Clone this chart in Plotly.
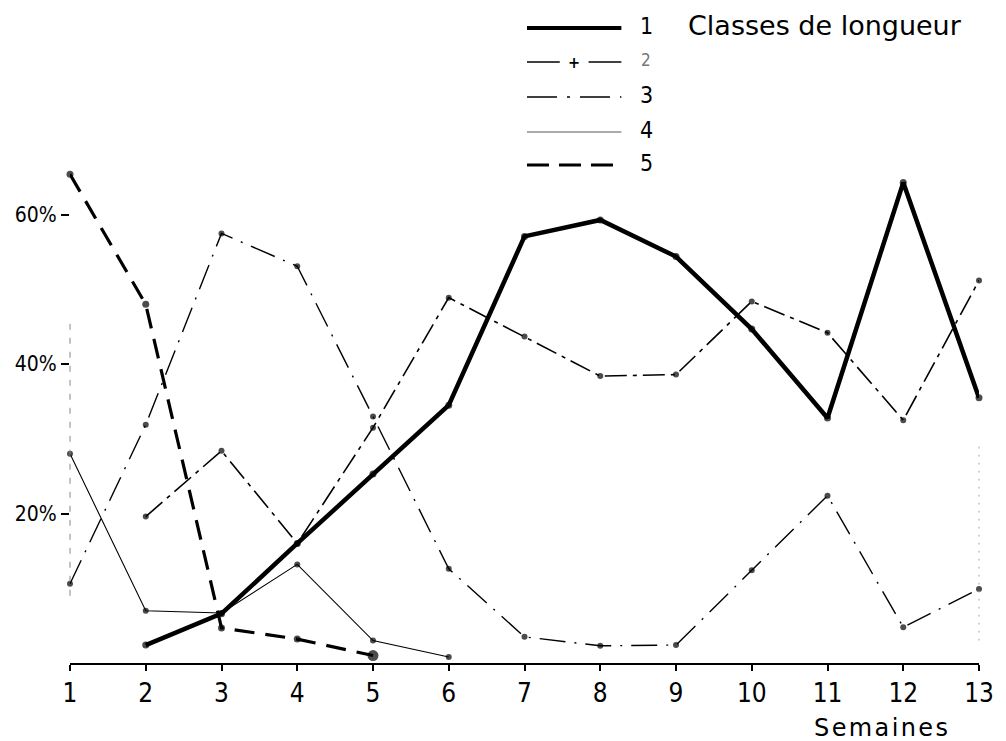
import plotly.graph_objects as go

weeks = list(range(1, 14))

# percentages per length class; None = no value
classe1 = [None, 2.4, 6.6, 16.0, 25.3, 34.5, 57.1, 59.3, 54.4, 44.7, 32.8, 64.3, 35.5]
classe2 = [None, 19.6, 28.4, 16.0, 31.5, 48.9, 43.7, 38.4, 38.6, 48.4, 44.2, 32.5, 51.2]
classe3 = [10.6, 31.9, 57.5, 53.1, 33.0, 12.6, 3.5, 2.3, 2.4, 12.4, 22.4, 4.8, 9.9]
classe4 = [28.0, 7.0, 6.7, 13.2, 3.0, 0.8, None, None, None, None, None, None, None]
classe5 = [65.4, 48.0, 4.7, 3.2, 1.0, None, None, None, None, None, None, None, None]

y_ticks = [20, 40, 60]
y_tick_labels = ["20%", "40%", "60%"]
legend_labels = ["1", "2", "3", "4", "5"]
legend_title = "Classes de longueur"
x_title = "Semaines"

FONT = "DejaVu Sans Condensed, DejaVu Sans, sans-serif"

fig = go.Figure()

styles = [
    (classe1, dict(width=4.5, dash="solid"), 7),
    (classe2, dict(width=1.6, dash="22px,6px,4px,6px"), 6),
    (classe3, dict(width=1.4, dash="26px,9px,2px,9px"), 6),
    (classe4, dict(width=1.1, dash="solid"), 6),
    (classe5, dict(width=3.2, dash="20px,11px"), 7),
]
for (vals, line, msize), name in zip(styles, legend_labels):
    sizes = [msize] * len(vals)
    if name == "5":
        sizes[4] = 11
    fig.add_trace(go.Scatter(
        x=weeks, y=vals, name=name, mode="lines+markers",
        line=dict(color="black", **line),
        marker=dict(color="black", size=sizes, symbol="circle", line=dict(width=0)),
        connectgaps=False, cliponaxis=False, showlegend=False,
    ))

# plot geometry (pixels) for paper coordinate conversion of the hand-drawn legend
L, R, T, B = 70, 21, 140, 78
W, H = 1006 - L - R, 741 - T - B

def px(x):
    return (x - L) / W

def py(y):
    return (741 - B - y) / H

shapes = []
annotations = []
leg_rows = [28, 62, 97, 132, 165]
leg_styles = [
    dict(width=4, dash="solid", color="black"),
    dict(width=1.6, dash="solid", color="black"),
    dict(width=1.6, dash="30px,10px,3px,10px", color="black"),
    dict(width=1, dash="solid", color="#555"),
    dict(width=3.2, dash="22px,10px", color="black"),
]
for i, (row, st) in enumerate(zip(leg_rows, leg_styles)):
    if i == 1:
        for x0, x1 in [(530, 563), (592, 625)]:
            shapes.append(dict(type="line", xref="paper", yref="paper",
                               x0=px(x0), x1=px(x1), y0=py(row), y1=py(row), line=st))
        annotations.append(dict(xref="paper", yref="paper", x=px(577), y=py(row),
                                text="<b>+</b>", showarrow=False, font=dict(size=16, color="black", family=FONT),
                                xanchor="center", yanchor="middle"))
    else:
        shapes.append(dict(type="line", xref="paper", yref="paper",
                           x0=px(530), x1=px(625), y0=py(row), y1=py(row), line=st))
    annotations.append(dict(xref="paper", yref="paper", x=px(650), y=py(row - 2),
                            text=legend_labels[i], showarrow=False,
                            font=dict(size=23 if i != 1 else 17, color="black" if i != 1 else "#777", family=FONT),
                            xanchor="center", yanchor="middle"))
annotations.append(dict(xref="paper", yref="paper", x=px(690), y=py(26),
                        text=legend_title, showarrow=False,
                        font=dict(size=27, color="black", family="DejaVu Sans, sans-serif"),
                        xanchor="left", yanchor="middle"))
annotations.append(dict(xref="paper", yref="paper", x=px(886), y=py(728),
                        text="\u200a".join(x_title), showarrow=False,
                        font=dict(size=24, color="black", family="DejaVu Sans, sans-serif"),
                        xanchor="center", yanchor="middle"))

# faint dashed left axis and dotted right edge
shapes.append(dict(type="line", xref="paper", yref="y", x0=0, x1=0, y0=9, y1=46,
                   line=dict(color="#888", width=1, dash="6px,8px")))
shapes.append(dict(type="line", xref="paper", yref="y", x0=1, x1=1, y0=3, y1=29,
                   line=dict(color="#aaa", width=1, dash="2px,6px")))

fig.update_layout(
    width=1006, height=741,
    margin=dict(l=L, r=R, t=T, b=B),
    paper_bgcolor="white", plot_bgcolor="white",
    shapes=shapes, annotations=annotations,
    xaxis=dict(range=[1, 13], tickvals=weeks, ticktext=[str(w) for w in weeks],
               showgrid=False, zeroline=False, showline=True, linecolor="black", linewidth=2,
               ticks="outside", ticklen=6, tickwidth=1.5, tickcolor="black",
               tickfont=dict(size=26, color="black", family=FONT)),
    yaxis=dict(range=[0, 70], tickvals=y_ticks, ticktext=y_tick_labels,
               showgrid=False, zeroline=False, showline=False,
               ticks="outside", ticklen=8, tickwidth=1.5, tickcolor="black",
               tickfont=dict(size=21, color="black", family=FONT)),
)

fig.write_html("out.html")
